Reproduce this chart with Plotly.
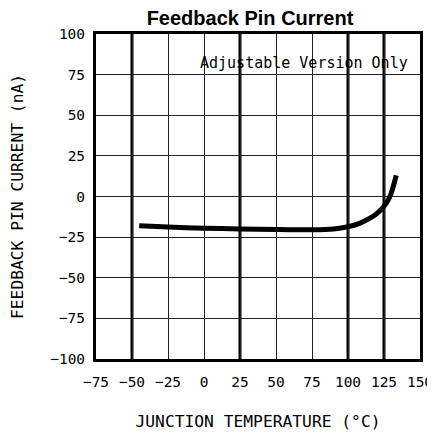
import plotly.graph_objects as go

# Data
temp_c = [-45, -25, 0, 25, 50, 75, 90, 100, 108, 115, 120, 125, 128, 130, 132, 133.5]
fb_current_na = [-18, -18.8, -19.5, -20, -20.3, -20.5, -20, -18.6, -16.5, -13.5, -10.5, -6, -2, 2, 8, 13]

x_ticks = [-75, -50, -25, 0, 25, 50, 75, 100, 125, 150]
y_ticks = [-100, -75, -50, -25, 0, 25, 50, 75, 100]
thick_x = [-50, 25, 100, 125]

MONO = "DejaVu Sans Mono"
tick_font = dict(family=MONO, size=14.5, color="black")
title_font = dict(family=MONO, size=16.3, color="black")
note_font = dict(family=MONO, size=15, color="black")

# the page adds an 8px body margin, so the figure is drawn smaller to avoid scrolling
W, H = 427, 423

fig = go.Figure()
fig.add_trace(go.Scatter(x=temp_c, y=fb_current_na, mode="lines",
                         line=dict(color="black", width=5, shape="spline", smoothing=0.5),
                         showlegend=False, hoverinfo="skip"))

for xv in thick_x:
    fig.add_vline(x=xv, line=dict(color="black", width=3), layer="below")

fig.update_layout(
    width=W, height=H,
    margin=dict(l=88, r=15, t=26, b=72, autoexpand=False),
    paper_bgcolor="white", plot_bgcolor="white",
    title=dict(text="<b>Feedback Pin Current</b>", x=242 / W, xanchor="center",
               y=1 - 10 / H, yanchor="middle", automargin=False,
               font=dict(family="Liberation Sans, Arial", size=20, color="black")),
    annotations=[dict(text="Adjustable Version Only", xref="paper", yref="paper",
                      x=0.968, y=0.912, xanchor="right", yanchor="middle",
                      showarrow=False, font=note_font)],
)

fig.update_xaxes(range=[-75, 150], tickvals=x_ticks, showgrid=True, gridcolor="#222",
                 gridwidth=1.4, showline=True, linecolor="black", linewidth=3, mirror=True,
                 zeroline=False, ticks="", tickfont=tick_font, ticklabelstandoff=8,
                 automargin=False, ticklabeloverflow="allow",
                 title=dict(text="JUNCTION TEMPERATURE (°C)", font=title_font, standoff=28))
fig.update_yaxes(range=[-100, 100], tickvals=y_ticks, showgrid=True, gridcolor="#222",
                 gridwidth=1.4, showline=True, linecolor="black", linewidth=3, mirror=True,
                 zeroline=False, ticks="", tickfont=tick_font, ticklabelstandoff=5,
                 automargin=False,
                 title=dict(text="FEEDBACK PIN CURRENT (nA)", font=title_font, standoff=26))

fig.write_html("out.html")
